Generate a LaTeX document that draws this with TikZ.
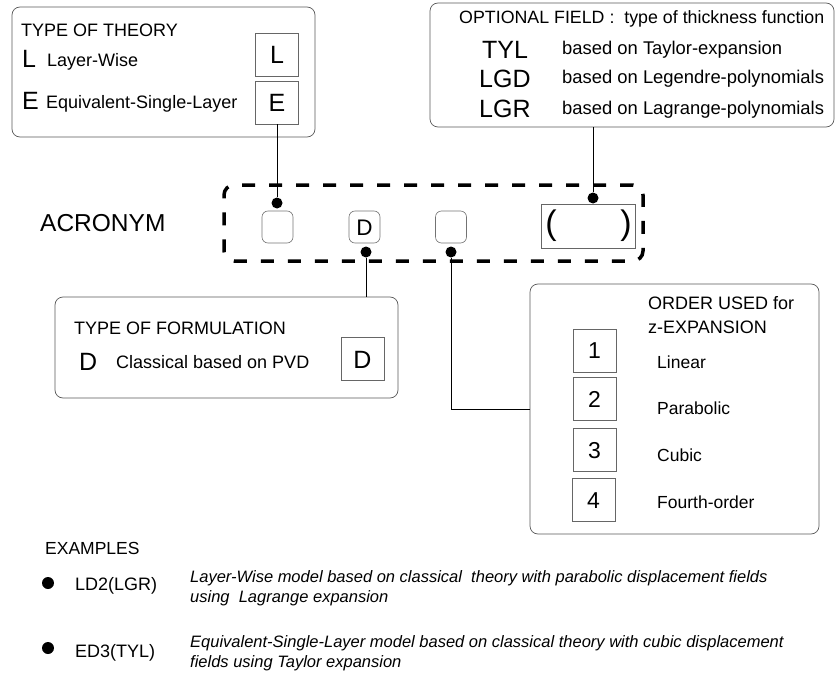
\documentclass[tikz,border=0pt]{standalone}
\usepackage{fontspec}
\setmainfont{Liberation Sans}
\begin{document}
\begin{tikzpicture}[x=1pt,y=-1pt]
	\tikzstyle{Panel} = [rectangle, rounded corners=8pt, draw=black!65, line width=0.7pt]
	\tikzstyle{Letter} = [rectangle, draw=black!60, line width=0.6pt, minimum width=43, minimum height=43, inner sep=0, text height=18pt, text depth=0pt, font=\fontsize{25}{27}\selectfont]
	\tikzstyle{Digit} = [Letter, text height=16.5pt, font=\fontsize{23}{25}\selectfont]
	\tikzstyle{Slot} = [rectangle, rounded corners=6pt, draw=black!55, line width=0.6pt, minimum width=31, minimum height=32, inner sep=0, text height=16pt, text depth=0pt, font=\fontsize{22.5}{25}\selectfont]
	\tikzstyle{Dot} = [circle, fill=black, inner sep=0, minimum size=11]
	\tikzstyle{Txt} = [anchor=base west, inner sep=0, font=\fontsize{18}{20}\selectfont]
	\tikzstyle{Big} = [anchor=base west, inner sep=0, font=\fontsize{25}{27}\selectfont]
	\tikzstyle{Label} = [anchor=west, inner sep=0, font=\fontsize{17.5}{20}\selectfont]
	\tikzstyle{Note} = [anchor=west, inner sep=0, align=left, font=\fontsize{16.5}{20}\selectfont\itshape]
	\tikzstyle{link} = [line width=0.8pt]

	\useasboundingbox (0,0) rectangle (835,674);

	% type of theory
	\node (theory) [Panel, minimum width=303, minimum height=130] at (163.5,72) {};
	\node (theorytitle) [Txt] at (21,37) {TYPE OF THEORY};
	\node (bigL) [Big] at (22,68) {L};
	\node (txtL) [Txt] at (47,67) {Layer-Wise};
	\node (bigE) [Big] at (22,110) {E};
	\node (txtE) [Txt] at (46,109) {Equivalent-Single-Layer};
	\node (boxL) [Letter] at (277,55) {L};
	\node (boxE) [Letter] at (277,102.5) {E};

	% optional field
	\node (option) [Panel, minimum width=404, minimum height=124] at (632,65) {};
	\node (optiontitle) [Txt, font=\fontsize{17.8}{20}\selectfont] at (459,24) {OPTIONAL FIELD :\ \ type of thickness function};
	\node (tyl) [Big] at (482,59) {TYL};
	\node (lgd) [Big] at (479,88) {LGD};
	\node (lgr) [Big] at (479,118) {LGR};
	\node (txtTYL) [Txt, font=\fontsize{18.4}{20}\selectfont] at (562,55) {based on Taylor-expansion};
	\node (txtLGD) [Txt, font=\fontsize{18.4}{20}\selectfont] at (562,84) {based on Legendre-polynomials};
	\node (txtLGR) [Txt, font=\fontsize{18.4}{20}\selectfont] at (562,115) {based on Lagrange-polynomials};

	% acronym
	\node (acronym) [anchor=west, inner sep=0, font=\fontsize{24.5}{27}\selectfont] at (40,223) {ACRONYM};
	\node (frame) [rectangle, rounded corners=10pt, draw=black, line width=3.5pt, dash pattern=on 13pt off 14pt, minimum width=419, minimum height=76] at (433.5,223) {};
	\node (slotT) [Slot] at (277.5,227) {};
	\node (slotD) [Slot] at (364.5,227) {D};
	\node (slotZ) [Slot] at (451,227) {};
	\node (slotP) [rectangle, draw=black!60, line width=0.6pt, minimum width=94, minimum height=44] at (588,226) {};
	\node (lparen) [inner sep=0, font=\fontsize{34}{36}\selectfont] at (551,226) {(};
	\node (rparen) [inner sep=0, font=\fontsize{34}{36}\selectfont] at (626,226) {)};

	\node (dotT) [Dot] at (277,203) {};
	\node (dotD) [Dot] at (366,252) {};
	\node (dotZ) [Dot] at (451,252) {};
	\node (dotP) [Dot] at (593,198) {};

	% type of formulation
	\node (formulation) [Panel, minimum width=343, minimum height=101] at (226.5,347.5) {};
	\node (formtitle) [Txt] at (74,334) {TYPE OF FORMULATION};
	\node (bigD) [Big] at (79,370) {D};
	\node (txtD) [Txt] at (116,368) {Classical based on PVD};
	\node (boxD) [Letter] at (362.5,359) {D};

	% order
	\node (order) [Panel, minimum width=289, minimum height=250] at (674.5,409) {};
	\node (ordertitle) [Txt] at (648,309) {ORDER USED for};
	\node (ordertitleb) [Txt] at (648,333) {z-EXPANSION};
	\node (box1) [Digit] at (594.5,350.5) {1};
	\node (box2) [Digit] at (594.5,399) {2};
	\node (box3) [Digit] at (594.5,450) {3};
	\node (box4) [Digit] at (593.5,500) {4};
	\node (txt1) [Label] at (657,362) {Linear};
	\node (txt2) [Label] at (657,408) {Parabolic};
	\node (txt3) [Label] at (657,455) {Cubic};
	\node (txt4) [Label] at (657,502) {Fourth-order};

	% connectors
	\draw [link] (boxE.south) -- (dotT);
	\draw [link] (dotP) -- (dotP |- option.south);
	\draw [link] (dotD) -- (dotD |- formulation.north);
	\draw [link] (dotZ) |- (order.west);

	% examples
	\node (examples) [Label] at (45,548) {EXAMPLES};
	\node (bullet1) [Dot, minimum size=12] at (48,583) {};
	\node (ex1) [Label, font=\fontsize{18}{20}\selectfont] at (75,586) {LD2(LGR)};
	\node (note1) [Note] at (190,588) {Layer-Wise model based on classical\ \ theory with parabolic displacement fields\\using\ \ Lagrange expansion};
	\node (bullet2) [Dot, minimum size=12] at (48,648) {};
	\node (ex2) [Label, font=\fontsize{18}{20}\selectfont] at (75,653) {ED3(TYL)};
	\node (note2) [Note] at (190,653) {Equivalent-Single-Layer model based on classical theory with cubic displacement\\fields using Taylor expansion};
\end{tikzpicture}
\end{document}
